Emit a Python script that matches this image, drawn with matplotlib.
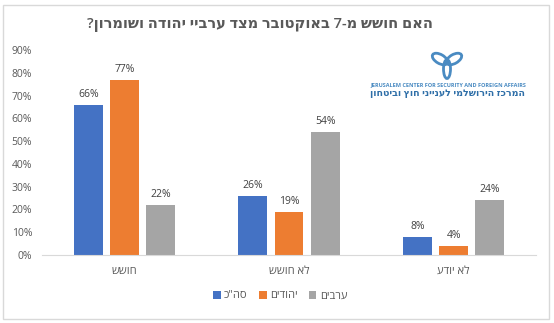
import matplotlib
matplotlib.use("Agg")
import matplotlib.pyplot as plt
import numpy as np
from matplotlib.patches import Ellipse, Rectangle

plt.rcParams['font.family'] = ['Open Sans', 'DejaVu Sans']

def rtl(s):
    return s[::-1]

title = "האם חושש מ-7 באוקטובר מצד ערביי יהודה ושומרון?"
categories = ["חושש", "לא חושש", "לא יודע"]
series_names = ['סה"כ', "יהודים", "ערבים"]
total = [66, 26, 8]
jews = [77, 19, 4]
arabs = [22, 54, 24]
series_values = [total, jews, arabs]
colors = ["#4472C4", "#ED7D31", "#A5A5A5"]
yticks = [0, 10, 20, 30, 40, 50, 60, 70, 80, 90]

W, H = 554, 323
fig = plt.figure(figsize=(W / 100, H / 100), dpi=100)
fig.patch.set_facecolor("white")

# chart border
fig.patches.append(Rectangle((3 / W, 4 / H), 546 / W, 314 / H, transform=fig.transFigure,
                             fill=False, edgecolor="#D9D9D9", linewidth=1))

ax = fig.add_axes([42 / W, 68 / H, 494 / W, 205 / H])
x = np.arange(len(categories))
bw = 0.176
pitch = 0.219
for i, (name, vals, c) in enumerate(zip(series_names, series_values, colors)):
    pos = x + (i - 1) * pitch
    bars = ax.bar(pos, vals, width=bw, color=c, label=rtl(name), zorder=2)
    for p, v in zip(pos, vals):
        ax.text(p, v + 2.2, f"{v}%", ha="center", va="bottom", fontsize=7.5, color="#404040")

ax.set_xlim(-0.5, 2.5)
ax.set_ylim(0, 90)
ax.set_yticks(yticks)
ax.set_yticklabels([f"{t}%" for t in yticks], fontsize=7.5, color="#595959")
ax.set_xticks(x)
ax.set_xticklabels([rtl(c) for c in categories], fontsize=8, color="#595959")
ax.tick_params(axis="both", length=0)
ax.tick_params(axis="y", pad=7)
ax.tick_params(axis="x", pad=8)
for s in ["top", "right", "left"]:
    ax.spines[s].set_visible(False)
ax.spines["bottom"].set_color("#D9D9D9")

fig.text(260 / W, 1 - 25 / H, rtl(title), ha="center", va="center", fontsize=10.5,
         fontweight="semibold", color="#595959")

leg = fig.legend(loc="center", bbox_to_anchor=(280 / W, 1 - 296 / H), ncol=3, frameon=False,
                 fontsize=8, handlelength=0.7, handleheight=0.7, handletextpad=0.3,
                 columnspacing=1.0)
for t in leg.get_texts():
    t.set_color("#595959")

# logo
logo_c = "#4A8BC2"
lax = fig.add_axes([425 / W, 1 - 81 / H, 44 / W, 32 / H])
lax.set_xlim(-22, 22)
lax.set_ylim(-16, 16)
lax.set_aspect("equal")
lax.axis("off")
lax.add_patch(Ellipse((-7, 6), 17, 9, angle=-30, fill=False, edgecolor=logo_c, lw=2.0))
lax.add_patch(Ellipse((7, 6), 17, 9, angle=30, fill=False, edgecolor=logo_c, lw=2.0))
lax.add_patch(Ellipse((0, -4), 7, 19, angle=0, fill=False, edgecolor=logo_c, lw=2.0))
fig.text(448 / W, 1 - 85 / H, "JERUSALEM CENTER FOR SECURITY AND FOREIGN AFFAIRS",
         ha="center", va="center", fontsize=4.0, color=logo_c, fontweight="bold")
fig.text(448 / W, 1 - 94 / H, rtl("המרכז הירושלמי לענייני חוץ וביטחון"),
         ha="center", va="center", fontsize=6.8, color="#2F6FA8", fontweight="bold")

fig.savefig("out.png", dpi=100)
